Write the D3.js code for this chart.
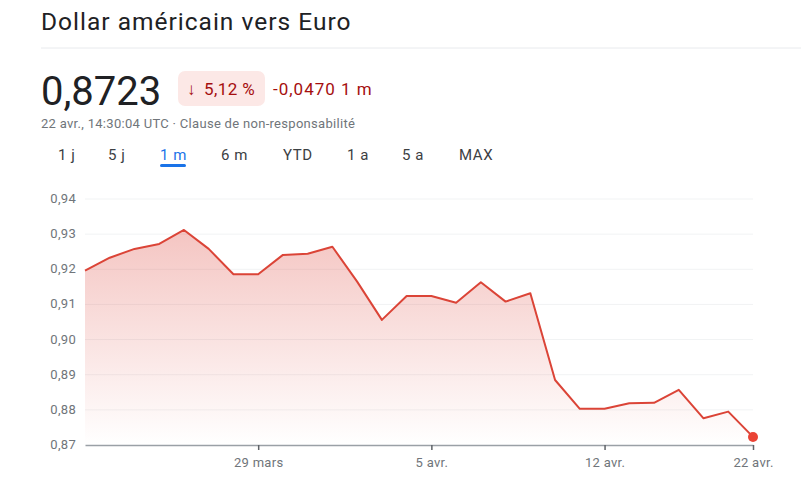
<!DOCTYPE html>
<html><head><meta charset="utf-8">
<script src="https://cdn.jsdelivr.net/npm/d3@7"></script>
<style>body{margin:0;background:#fff;font-family:Roboto,Arial,sans-serif}</style>
</head><body><svg id="c" width="801" height="480"></svg>
<script>
const values = [0.9196,0.9233,0.9258,0.9272,0.9312,0.9258,0.9186,0.9186,0.9241,0.9244,0.9264,0.9165,0.9056,0.9124,0.9124,0.9105,0.9163,0.9108,0.9132,0.8885,0.8803,0.8803,0.8819,0.8820,0.8857,0.8776,0.8795,0.8723];
const xTickIdx = [7,14,21,27];
const xTickLabels = ["29 mars","5 avr.","12 avr.","22 avr."];
const yTicks = [0.87,0.88,0.89,0.90,0.91,0.92,0.93,0.94];
const tabs = ["1 j","5 j","1 m","6 m","YTD","1 a","5 a","MAX"];
const tabX = [58,108,160,221,283,347,402,459];

const svg = d3.select("#c");
const red="#d93025", dark="#202124", grey="#70757a", dred="#a50e0e";
svg.append("text").attr("x",41).attr("y",30).attr("font-size",24.5).attr("letter-spacing",1.0).attr("fill",dark).text("Dollar américain vers Euro");
svg.append("line").attr("x1",41).attr("x2",801).attr("y1",48).attr("y2",48).attr("stroke","#e8eaed");
svg.append("text").attr("x",41).attr("y",105).attr("font-size",40).attr("fill",dark).text("0,8723");
svg.append("rect").attr("x",178).attr("y",71).attr("width",87).attr("height",35).attr("rx",7).attr("fill","#fce8e6");
svg.append("text").attr("x",187).attr("y",95).attr("font-size",17).attr("letter-spacing",0.4).attr("fill",dred).text("↓");
svg.append("text").attr("x",204).attr("y",95).attr("font-size",17).attr("letter-spacing",0.4).attr("fill",dred).text("5,12 %");
svg.append("text").attr("x",273).attr("y",95).attr("font-size",17).attr("letter-spacing",1).attr("fill",dred).text("-0,0470 1 m");
svg.append("text").attr("x",41).attr("y",128).attr("font-size",13).attr("letter-spacing",0.3).attr("fill",grey).text("22 avr., 14:30:04 UTC · Clause de non-responsabilité");
tabs.forEach((t,i)=>{
  svg.append("text").attr("x",tabX[i]).attr("y",160).attr("font-size",15).attr("letter-spacing",0.6).attr("fill",t==="1 m"?"#1a73e8":"#3c4043").text(t);
});
svg.append("rect").attr("x",160).attr("y",164).attr("width",26).attr("height",3).attr("rx",1.5).attr("fill","#1a73e8");

const x = d3.scaleLinear().domain([0,values.length-1]).range([85,753]);
const y = d3.scaleLinear().domain([0.87,0.94]).range([445,199]);
const fmt = d=>d3.format(".2f")(d).replace(".",",");

yTicks.forEach(t=>{
  if(t>0.87) svg.append("line").attr("x1",85).attr("x2",753).attr("y1",y(t)).attr("y2",y(t)).attr("stroke","#f1f3f4");
  svg.append("text").attr("x",76).attr("y",y(t)+4).attr("text-anchor","end").attr("font-size",13).attr("letter-spacing",0.3).attr("fill",grey).text(fmt(t));
});

const defs = svg.append("defs");
const g = defs.append("linearGradient").attr("id","gr").attr("x1",0).attr("x2",0).attr("y1",0).attr("y2",1);
g.append("stop").attr("offset","0%").attr("stop-color",red).attr("stop-opacity",0.28);
g.append("stop").attr("offset","100%").attr("stop-color",red).attr("stop-opacity",0.0);
svg.append("path").datum(values).attr("fill","url(#gr)")
  .attr("d",d3.area().x((d,i)=>x(i)).y0(445).y1(d=>y(d)));
svg.append("path").datum(values).attr("fill","none").attr("stroke","#db4437").attr("stroke-width",2).attr("stroke-linejoin","round")
  .attr("d",d3.line().x((d,i)=>x(i)).y(d=>y(d)));

const ax = svg.append("g").attr("transform","translate(0,445)")
  .call(d3.axisBottom(x).tickValues(xTickIdx).tickFormat((d,i)=>xTickLabels[i]).tickSize(5).tickSizeOuter(0));
ax.select(".domain").attr("stroke","#9aa0a6").attr("stroke-width",1.5);
ax.selectAll(".tick line").attr("stroke","#5f6368").attr("stroke-width",1.5);
ax.selectAll("text").attr("font-size",13).attr("letter-spacing",0.3).attr("fill",grey).attr("font-family","Roboto,Arial,sans-serif").attr("dy","1.1em");
svg.append("circle").attr("cx",x(values.length-1)).attr("cy",y(values[values.length-1])).attr("r",5).attr("fill","#ea4335");
</script></body></html>
